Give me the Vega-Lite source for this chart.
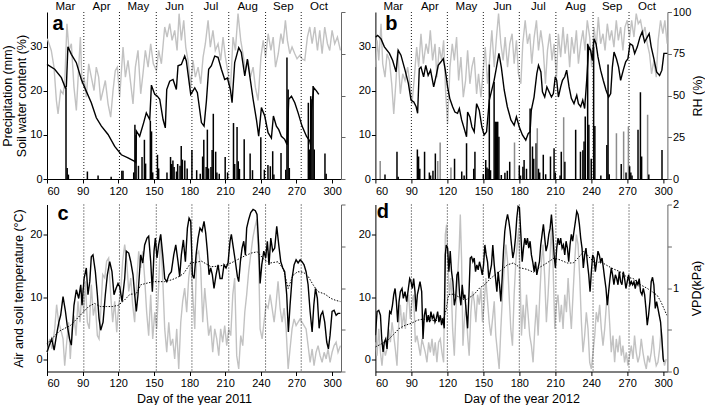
{
"$schema": "https://vega.github.io/schema/vega-lite/v6.json",
"padding": {"left": 1, "top": 0, "right": 0, "bottom": 0},
"background": "white",
"config": {
  "font": "Liberation Sans",
  "view": {"stroke": null},
  "axis": {"grid": false, "domainColor": "#000", "tickColor": "#000", "labelColor": "#000", "titleColor": "#000", "labelFont": "Liberation Sans", "titleFont": "Liberation Sans", "labelFontSize": 11, "titleFontSize": 12.5, "titleFontWeight": "normal", "tickSize": 4, "labelPadding": 1, "titlePadding": 2, "domainWidth": 1, "tickWidth": 1}
},
"datasets": {
  "m2011": [{"day": 91}, {"day": 121}, {"day": 152}, {"day": 182}, {"day": 213}, {"day": 244}, {"day": 274}],
  "m2012": [{"day": 90}, {"day": 120}, {"day": 150}, {"day": 180}, {"day": 210.5}, {"day": 241.5}, {"day": 271.5}],
  "a_swc": [{"day":60,"v":26.0},{"day":66.5,"v":24.9},{"day":72.1,"v":23.0},{"day":75.4,"v":20.7},{"day":76.3,"v":21.0},{"day":77.6,"v":30.0},{"day":80.5,"v":28.3},{"day":84.7,"v":26.4},{"day":88.9,"v":22.6},{"day":92.3,"v":20.4},{"day":97.3,"v":17.3},{"day":101.5,"v":13.9},{"day":105.8,"v":12.0},{"day":111.4,"v":10.1},{"day":117,"v":7.4},{"day":122.6,"v":5.5},{"day":128.2,"v":4.8},{"day":133.8,"v":4.0},{"day":134.7,"v":3.8},{"day":135.2,"v":10.9},{"day":138,"v":9.7},{"day":141.4,"v":12.8},{"day":143.6,"v":15.0},{"day":146.5,"v":13.5},{"day":147.9,"v":21.3},{"day":150.7,"v":19.2},{"day":152.9,"v":18.8},{"day":154.9,"v":18.1},{"day":157.7,"v":13.5},{"day":159.6,"v":11.6},{"day":160.8,"v":20.3},{"day":163.3,"v":22.2},{"day":166.1,"v":22.6},{"day":168.9,"v":20.3},{"day":170.3,"v":25.7},{"day":173.1,"v":26.0},{"day":175.9,"v":27.9},{"day":177.3,"v":26.8},{"day":181,"v":19.2},{"day":184.4,"v":20.7},{"day":186.6,"v":19.6},{"day":190,"v":12.8},{"day":192.2,"v":12.0},{"day":194.2,"v":17.7},{"day":196.1,"v":24.9},{"day":198.4,"v":25.7},{"day":201.2,"v":27.9},{"day":204,"v":27.6},{"day":206.8,"v":24.9},{"day":209.6,"v":22.6},{"day":211.9,"v":22.9},{"day":214.4,"v":20.3},{"day":215.8,"v":17.3},{"day":218,"v":26.4},{"day":221.4,"v":29.8},{"day":223.6,"v":28.7},{"day":226.5,"v":23.4},{"day":228.7,"v":27.2},{"day":230.7,"v":23.4},{"day":233.5,"v":18.1},{"day":236.3,"v":13.5},{"day":238.2,"v":9.7},{"day":240.5,"v":16.2},{"day":243.3,"v":14.3},{"day":246.1,"v":10.5},{"day":248.9,"v":9.3},{"day":250.6,"v":14.3},{"day":253.1,"v":12.0},{"day":255.1,"v":11.2},{"day":257.3,"v":9.7},{"day":260.1,"v":9.0},{"day":262.1,"v":7.8},{"day":263.5,"v":18.1},{"day":265.8,"v":18.8},{"day":268.6,"v":17.3},{"day":271.4,"v":15.0},{"day":274.7,"v":12.0},{"day":278.4,"v":9.7},{"day":281.2,"v":8.6},{"day":281.8,"v":7.8},{"day":282.6,"v":15.8},{"day":284.6,"v":20.7},{"day":286.8,"v":20.0},{"day":288.8,"v":19.2}],
  "a_rh": [{"day":60.3,"v":84},{"day":63.6,"v":77},{"day":65.9,"v":67},{"day":67.9,"v":47},{"day":69.3,"v":39},{"day":71.5,"v":53},{"day":73.5,"v":51},{"day":74.9,"v":57},{"day":76.8,"v":93},{"day":78.5,"v":77},{"day":80.5,"v":81},{"day":82.7,"v":55},{"day":84.7,"v":41},{"day":86.7,"v":67},{"day":88.1,"v":85},{"day":89.5,"v":57},{"day":91.2,"v":61},{"day":93.1,"v":49},{"day":95.1,"v":69},{"day":97.3,"v":61},{"day":99.6,"v":53},{"day":101.5,"v":67},{"day":103.5,"v":61},{"day":105.2,"v":47},{"day":107.2,"v":53},{"day":109.1,"v":59},{"day":111.4,"v":45},{"day":113.6,"v":37},{"day":115.6,"v":53},{"day":117.5,"v":65},{"day":119.2,"v":67},{"day":121.2,"v":49},{"day":124,"v":79},{"day":126,"v":61},{"day":128.2,"v":71},{"day":130.5,"v":57},{"day":132.4,"v":45},{"day":134.4,"v":67},{"day":136.6,"v":77},{"day":138.9,"v":51},{"day":140.8,"v":63},{"day":142.8,"v":77},{"day":145.1,"v":67},{"day":147.3,"v":81},{"day":149.5,"v":69},{"day":152.1,"v":65},{"day":154,"v":77},{"day":156.3,"v":69},{"day":159.1,"v":91},{"day":161.1,"v":85},{"day":163.3,"v":93},{"day":165.3,"v":83},{"day":167.5,"v":89},{"day":169.5,"v":77},{"day":171.2,"v":99},{"day":173.1,"v":83},{"day":175.1,"v":95},{"day":176.8,"v":79},{"day":178.7,"v":71},{"day":181,"v":55},{"day":182.9,"v":71},{"day":184.9,"v":61},{"day":187.2,"v":67},{"day":189.4,"v":57},{"day":191.4,"v":73},{"day":193.3,"v":81},{"day":195.6,"v":95},{"day":197.5,"v":79},{"day":199.7,"v":89},{"day":201.7,"v":77},{"day":204,"v":81},{"day":206.2,"v":71},{"day":208.2,"v":85},{"day":210.2,"v":73},{"day":212.5,"v":63},{"day":214.4,"v":53},{"day":216.6,"v":85},{"day":218.6,"v":77},{"day":220.8,"v":99},{"day":223.1,"v":83},{"day":225,"v":75},{"day":227,"v":65},{"day":229.3,"v":71},{"day":231.2,"v":61},{"day":233.5,"v":67},{"day":235.4,"v":55},{"day":237.7,"v":47},{"day":240.1,"v":73},{"day":242,"v":83},{"day":244,"v":73},{"day":246.2,"v":87},{"day":248.5,"v":77},{"day":250.4,"v":85},{"day":252.4,"v":67},{"day":254.7,"v":75},{"day":256.9,"v":87},{"day":258.7,"v":81},{"day":260.7,"v":95},{"day":262.4,"v":83},{"day":264.4,"v":75},{"day":266.3,"v":79},{"day":268.6,"v":75},{"day":270.5,"v":72},{"day":272.8,"v":74},{"day":274.7,"v":72},{"day":277,"v":71},{"day":279.2,"v":85},{"day":281.2,"v":91},{"day":283.2,"v":81},{"day":285.4,"v":91},{"day":287.7,"v":77},{"day":289.6,"v":89},{"day":291.6,"v":75},{"day":293.8,"v":91},{"day":296.1,"v":81},{"day":298,"v":77},{"day":300,"v":89},{"day":302.2,"v":81},{"day":304.5,"v":85},{"day":307,"v":77}],
  "a_p": [{"day":76,"v":20.7},{"day":77,"v":2.5},{"day":78,"v":1.0},{"day":94,"v":1.7},{"day":103,"v":0.8},{"day":114,"v":0.5},{"day":123,"v":1.9},{"day":124,"v":1.9},{"day":133,"v":1.5},{"day":134,"v":12.3},{"day":135,"v":10.0},{"day":137,"v":3.0},{"day":140,"v":5.0},{"day":142,"v":8.9},{"day":143,"v":3.5},{"day":147,"v":13.2},{"day":148,"v":10.8},{"day":149,"v":1.5},{"day":153,"v":5.5},{"day":154,"v":2.4},{"day":161,"v":1.5},{"day":164,"v":5.0},{"day":165,"v":3.4},{"day":166,"v":4.2},{"day":167,"v":2.7},{"day":169,"v":1.7},{"day":170,"v":3.4},{"day":172,"v":3.0},{"day":173,"v":7.5},{"day":174,"v":4.4},{"day":176,"v":4.2},{"day":178,"v":2.4},{"day":182,"v":6.6},{"day":186,"v":2.0},{"day":189,"v":1.2},{"day":191,"v":5.1},{"day":192,"v":8.9},{"day":194,"v":2.7},{"day":195,"v":11.2},{"day":196,"v":2.4},{"day":198,"v":2.7},{"day":199,"v":6.6},{"day":200,"v":14.8},{"day":202,"v":6.2},{"day":203,"v":1.5},{"day":205,"v":1.2},{"day":210,"v":5.0},{"day":212,"v":1.5},{"day":217,"v":12.7},{"day":218,"v":3.4},{"day":220,"v":11.8},{"day":221,"v":4.0},{"day":222,"v":2.3},{"day":226,"v":9.0},{"day":231,"v":5.8},{"day":233,"v":2.0},{"day":240,"v":9.5},{"day":243,"v":2.1},{"day":246,"v":3.2},{"day":248,"v":2.9},{"day":250,"v":6.3},{"day":251,"v":1.0},{"day":257,"v":5.9},{"day":261,"v":2.1},{"day":262,"v":27.6},{"day":263,"v":20.3},{"day":264,"v":2.5},{"day":280,"v":17.3},{"day":281,"v":6.7},{"day":282,"v":18.8},{"day":283,"v":18.1},{"day":284,"v":21.1},{"day":285,"v":6.7},{"day":294,"v":5.8},{"day":295,"v":1.2}],
  "b_swc": [{"day":60,"v":32.2},{"day":61.9,"v":32.6},{"day":64.7,"v":31.8},{"day":67.5,"v":30.0},{"day":71.7,"v":28.5},{"day":74.4,"v":26.9},{"day":77.2,"v":24.3},{"day":79,"v":29.2},{"day":81.3,"v":28.1},{"day":84.7,"v":24.7},{"day":87.5,"v":21.7},{"day":89.7,"v":17.9},{"day":92,"v":17.5},{"day":94,"v":16.4},{"day":95.2,"v":14.9},{"day":96.6,"v":25.0},{"day":98,"v":25.4},{"day":100.2,"v":23.2},{"day":102,"v":25.8},{"day":104,"v":23.5},{"day":106,"v":24.7},{"day":108.6,"v":20.9},{"day":110.5,"v":23.2},{"day":112.4,"v":25.8},{"day":114.7,"v":26.6},{"day":116.6,"v":27.3},{"day":118.3,"v":24.7},{"day":120.2,"v":20.9},{"day":122,"v":18.3},{"day":124.4,"v":16.4},{"day":126.3,"v":15.2},{"day":128.5,"v":14.9},{"day":130,"v":16.0},{"day":131.9,"v":13.4},{"day":134,"v":11.5},{"day":136,"v":9.6},{"day":136.9,"v":15.2},{"day":138.8,"v":14.1},{"day":140.5,"v":11.8},{"day":142.4,"v":10.7},{"day":144.4,"v":17.1},{"day":146.6,"v":15.6},{"day":148.8,"v":11.8},{"day":150.7,"v":10.0},{"day":152.7,"v":10.7},{"day":155,"v":17.9},{"day":159,"v":22.4},{"day":161,"v":25.4},{"day":163,"v":28.5},{"day":165,"v":25.4},{"day":167.4,"v":20.2},{"day":170,"v":16.4},{"day":173,"v":13.4},{"day":175.7,"v":12.2},{"day":177.6,"v":14.1},{"day":180,"v":11.8},{"day":182.6,"v":10.0},{"day":185.4,"v":8.8},{"day":187.4,"v":10.3},{"day":189,"v":10.7},{"day":190,"v":15.6},{"day":192.3,"v":18.6},{"day":194.6,"v":23.9},{"day":196,"v":25.8},{"day":198,"v":24.3},{"day":199.3,"v":19.8},{"day":201.2,"v":18.6},{"day":203,"v":20.9},{"day":204.8,"v":19.8},{"day":206.8,"v":18.6},{"day":208.4,"v":19.4},{"day":210,"v":23.2},{"day":211.2,"v":22.4},{"day":212.6,"v":18.6},{"day":214.5,"v":20.9},{"day":216,"v":22.4},{"day":217.9,"v":23.2},{"day":219.5,"v":24.7},{"day":221.5,"v":20.9},{"day":223.4,"v":18.3},{"day":225.6,"v":17.1},{"day":227.9,"v":19.0},{"day":229.3,"v":17.1},{"day":231.2,"v":16.4},{"day":232.9,"v":17.9},{"day":234.5,"v":16.0},{"day":236.2,"v":22.4},{"day":237.9,"v":30.0},{"day":239.5,"v":29.2},{"day":240.9,"v":26.9},{"day":242.3,"v":31.8},{"day":244,"v":30.7},{"day":245.6,"v":27.7},{"day":247.8,"v":24.7},{"day":250,"v":22.4},{"day":252.3,"v":20.2},{"day":254.5,"v":18.6},{"day":256.2,"v":19.4},{"day":257.6,"v":25.4},{"day":259,"v":28.8},{"day":261,"v":27.3},{"day":262.8,"v":25.4},{"day":264.5,"v":22.4},{"day":266.7,"v":24.7},{"day":268.7,"v":26.6},{"day":270.6,"v":27.3},{"day":272.3,"v":30.7},{"day":274.5,"v":30.3},{"day":276.2,"v":28.5},{"day":278.4,"v":30.0},{"day":280.6,"v":32.2},{"day":282.5,"v":33.4},{"day":284.5,"v":31.1},{"day":286.7,"v":32.2},{"day":288.3,"v":33.0},{"day":290,"v":30.0},{"day":292.2,"v":27.3},{"day":294.5,"v":24.3},{"day":297,"v":23.5},{"day":298.9,"v":24.7},{"day":300.6,"v":28.5},{"day":302.8,"v":28.5},{"day":304.2,"v":28.5}],
  "b_rh": [{"day":60,"v":67},{"day":61.4,"v":83},{"day":62.8,"v":71},{"day":64.7,"v":93},{"day":66.1,"v":69},{"day":68,"v":61},{"day":69.7,"v":75},{"day":71.7,"v":71},{"day":73.6,"v":57},{"day":75.3,"v":39},{"day":77.2,"v":59},{"day":78.6,"v":77},{"day":80.8,"v":51},{"day":82.8,"v":63},{"day":84.7,"v":59},{"day":86.9,"v":67},{"day":89.1,"v":55},{"day":90.5,"v":45},{"day":92.5,"v":61},{"day":94.4,"v":79},{"day":96.1,"v":67},{"day":98,"v":87},{"day":100,"v":69},{"day":102.2,"v":81},{"day":104.1,"v":75},{"day":105.8,"v":89},{"day":107.7,"v":71},{"day":109.7,"v":81},{"day":111.3,"v":61},{"day":113.3,"v":79},{"day":115.2,"v":71},{"day":116.9,"v":83},{"day":118.5,"v":53},{"day":120.2,"v":33},{"day":122.2,"v":67},{"day":124.1,"v":81},{"day":125.8,"v":71},{"day":127.7,"v":85},{"day":129.4,"v":59},{"day":131.3,"v":73},{"day":133.3,"v":49},{"day":135.2,"v":59},{"day":136.9,"v":77},{"day":138.8,"v":57},{"day":140.5,"v":67},{"day":142.4,"v":73},{"day":144.4,"v":51},{"day":146,"v":63},{"day":148,"v":49},{"day":149.9,"v":65},{"day":151.6,"v":79},{"day":153.5,"v":57},{"day":155.4,"v":73},{"day":157.1,"v":89},{"day":159.1,"v":67},{"day":161,"v":85},{"day":162.7,"v":99},{"day":164.6,"v":81},{"day":166.5,"v":71},{"day":168.2,"v":85},{"day":170.2,"v":67},{"day":172.1,"v":81},{"day":174,"v":87},{"day":175.7,"v":69},{"day":177.6,"v":83},{"day":179.3,"v":63},{"day":181.3,"v":57},{"day":182.9,"v":81},{"day":184.9,"v":95},{"day":186.8,"v":81},{"day":188.7,"v":87},{"day":190.4,"v":69},{"day":192.4,"v":85},{"day":194.3,"v":95},{"day":196,"v":77},{"day":197.9,"v":89},{"day":199.8,"v":79},{"day":201.8,"v":57},{"day":203.5,"v":77},{"day":205.4,"v":87},{"day":207.3,"v":71},{"day":209,"v":81},{"day":211,"v":61},{"day":212.6,"v":87},{"day":214.5,"v":73},{"day":216.5,"v":91},{"day":218.2,"v":75},{"day":220.1,"v":87},{"day":222,"v":67},{"day":223.7,"v":85},{"day":225.7,"v":75},{"day":227.6,"v":89},{"day":229.3,"v":69},{"day":231.2,"v":81},{"day":233.1,"v":89},{"day":234.8,"v":77},{"day":236.7,"v":95},{"day":238.7,"v":85},{"day":240.3,"v":67},{"day":242.3,"v":91},{"day":244.2,"v":79},{"day":245.9,"v":97},{"day":247.8,"v":81},{"day":249.8,"v":87},{"day":251.5,"v":77},{"day":253.4,"v":93},{"day":255.3,"v":83},{"day":257,"v":89},{"day":258.9,"v":79},{"day":260.9,"v":95},{"day":262.6,"v":83},{"day":264.5,"v":91},{"day":266.4,"v":77},{"day":268.1,"v":91},{"day":270,"v":95},{"day":272,"v":85},{"day":273.7,"v":95},{"day":275.6,"v":85},{"day":277.5,"v":99},{"day":279.2,"v":93},{"day":281.1,"v":95},{"day":283.1,"v":87},{"day":284.8,"v":91},{"day":286.7,"v":81},{"day":288.6,"v":75},{"day":290.3,"v":63},{"day":292.2,"v":71},{"day":294.2,"v":61},{"day":295.8,"v":83},{"day":297.8,"v":95},{"day":299.7,"v":87},{"day":301.4,"v":95},{"day":303.3,"v":81},{"day":305,"v":89}],
  "b_p": [{"day":64,"v":4.1,"s":"g"},{"day":68,"v":1.0,"s":"k"},{"day":78,"v":6.2,"s":"k"},{"day":79,"v":0.5,"s":"k"},{"day":95,"v":6.7,"s":"k"},{"day":96,"v":5.1,"s":"k"},{"day":97,"v":2.3,"s":"k"},{"day":101,"v":6.2,"s":"k"},{"day":105,"v":1.5,"s":"k"},{"day":106,"v":0.8,"s":"k"},{"day":108,"v":1.9,"s":"k"},{"day":110,"v":5.8,"s":"k"},{"day":112,"v":4.1,"s":"g"},{"day":114,"v":8.3,"s":"g"},{"day":123,"v":2.6,"s":"g"},{"day":126,"v":4.6,"s":"k"},{"day":132,"v":1.7,"s":"k"},{"day":134,"v":0.8,"s":"k"},{"day":136,"v":8.1,"s":"k"},{"day":142,"v":2.3,"s":"k"},{"day":143,"v":6.2,"s":"k"},{"day":150,"v":1.1,"s":"k"},{"day":152,"v":4.3,"s":"k"},{"day":153,"v":2.6,"s":"k"},{"day":154,"v":2.3,"s":"k"},{"day":155,"v":26.0,"s":"k"},{"day":156,"v":2.0,"s":"k"},{"day":159,"v":22.0,"s":"k"},{"day":160,"v":13.0,"s":"k"},{"day":161,"v":13.0,"s":"k"},{"day":162,"v":13.0,"s":"k"},{"day":163,"v":9.6,"s":"k"},{"day":165,"v":0.9,"s":"k"},{"day":168,"v":1.4,"s":"k"},{"day":170,"v":1.9,"s":"k"},{"day":172,"v":3.9,"s":"k"},{"day":176,"v":8.3,"s":"g"},{"day":180,"v":3.0,"s":"k"},{"day":181,"v":0.8,"s":"k"},{"day":183,"v":2.8,"s":"k"},{"day":184,"v":4.3,"s":"k"},{"day":186,"v":2.3,"s":"k"},{"day":189,"v":16.0,"s":"k"},{"day":191,"v":7.4,"s":"k"},{"day":192,"v":4.6,"s":"k"},{"day":194,"v":8.1,"s":"k"},{"day":195,"v":11.5,"s":"g"},{"day":196,"v":2.3,"s":"k"},{"day":197,"v":1.5,"s":"k"},{"day":200,"v":5.5,"s":"k"},{"day":202,"v":1.1,"s":"k"},{"day":206,"v":5.1,"s":"k"},{"day":209,"v":7.0,"s":"k"},{"day":210,"v":1.5,"s":"k"},{"day":214,"v":0.8,"s":"k"},{"day":215,"v":6.2,"s":"k"},{"day":217,"v":14.0,"s":"g"},{"day":218,"v":3.9,"s":"k"},{"day":227,"v":11.2,"s":"k"},{"day":231,"v":6.2,"s":"k"},{"day":233,"v":6.5,"s":"k"},{"day":234,"v":8.5,"s":"k"},{"day":235,"v":14.2,"s":"k"},{"day":237,"v":30.7,"s":"k"},{"day":238,"v":12.3,"s":"k"},{"day":240,"v":4.6,"s":"k"},{"day":242,"v":30.0,"s":"k"},{"day":243,"v":12.0,"s":"k"},{"day":248,"v":0.8,"s":"k"},{"day":253,"v":7.7,"s":"k"},{"day":254,"v":26.0,"s":"k"},{"day":255,"v":1.1,"s":"k"},{"day":261,"v":10.4,"s":"g"},{"day":265,"v":3.4,"s":"k"},{"day":267,"v":10.8,"s":"g"},{"day":269,"v":1.5,"s":"k"},{"day":271,"v":11.9,"s":"g"},{"day":272,"v":2.9,"s":"k"},{"day":273,"v":1.5,"s":"k"},{"day":274,"v":0.8,"s":"k"},{"day":279,"v":11.2,"s":"k"},{"day":281,"v":19.7,"s":"k"},{"day":282,"v":5.1,"s":"k"},{"day":287,"v":14.6,"s":"g"},{"day":288,"v":1.0,"s":"k"},{"day":299,"v":6.6,"s":"k"}],
  "c_air": [{"day":60,"v":1.2},{"day":62,"v":2.3},{"day":64,"v":3.3},{"day":66,"v":1.5},{"day":68,"v":3.9},{"day":70,"v":6.0},{"day":71.5,"v":7.1},{"day":73.5,"v":10.1},{"day":75.4,"v":7.9},{"day":77,"v":5.5},{"day":79,"v":3.3},{"day":80.5,"v":2.3},{"day":82.7,"v":8.7},{"day":84.7,"v":11.2},{"day":86.7,"v":9.8},{"day":88.4,"v":12.0},{"day":89.5,"v":8.7},{"day":91.2,"v":13.0},{"day":93.1,"v":14.7},{"day":94.5,"v":10.4},{"day":96,"v":12.5},{"day":97.3,"v":16.5},{"day":98.7,"v":16.8},{"day":100.7,"v":14.1},{"day":102.4,"v":10.4},{"day":103.8,"v":6.6},{"day":105.2,"v":4.7},{"day":107.2,"v":6.0},{"day":109.1,"v":10.4},{"day":110.8,"v":13.6},{"day":112.8,"v":15.7},{"day":114.7,"v":14.1},{"day":116.4,"v":10.4},{"day":118.1,"v":11.4},{"day":119.8,"v":12.2},{"day":121.2,"v":11.7},{"day":123.2,"v":9.3},{"day":125.4,"v":13.0},{"day":126.8,"v":17.4},{"day":128.8,"v":17.1},{"day":130.5,"v":15.7},{"day":132.4,"v":13.6},{"day":133.8,"v":10.4},{"day":135.2,"v":7.7},{"day":136.6,"v":10.4},{"day":138.9,"v":16.8},{"day":140.6,"v":15.5},{"day":142.2,"v":18.4},{"day":144.2,"v":19.5},{"day":145.6,"v":19.8},{"day":147.3,"v":15.7},{"day":148.7,"v":10.9},{"day":150.1,"v":17.4},{"day":151.2,"v":19.5},{"day":152.6,"v":16.3},{"day":154,"v":18.4},{"day":155.7,"v":20.1},{"day":157.4,"v":16.8},{"day":159.1,"v":13.0},{"day":160.8,"v":12.5},{"day":162.7,"v":13.6},{"day":164.7,"v":14.1},{"day":166.7,"v":16.8},{"day":168.4,"v":18.4},{"day":170.3,"v":15.7},{"day":171.7,"v":13.3},{"day":173.1,"v":16.8},{"day":174.8,"v":19.2},{"day":176.5,"v":15.7},{"day":178.2,"v":21.1},{"day":179.6,"v":22.7},{"day":181,"v":22.2},{"day":182.4,"v":13.6},{"day":183.8,"v":13.0},{"day":185.5,"v":16.8},{"day":187.2,"v":19.5},{"day":188.8,"v":21.1},{"day":190.5,"v":20.6},{"day":192.2,"v":22.2},{"day":193.6,"v":20.3},{"day":195,"v":17.4},{"day":196.4,"v":13.6},{"day":197.8,"v":14.7},{"day":199.2,"v":13.6},{"day":200.6,"v":11.4},{"day":202.3,"v":13.6},{"day":204,"v":15.2},{"day":205.7,"v":13.0},{"day":207.4,"v":13.0},{"day":209,"v":15.2},{"day":210.7,"v":14.7},{"day":212.4,"v":15.5},{"day":214.1,"v":19.0},{"day":215.2,"v":20.1},{"day":216.9,"v":17.9},{"day":218.6,"v":15.7},{"day":220.3,"v":13.3},{"day":221.4,"v":12.5},{"day":222.8,"v":15.7},{"day":224.2,"v":17.9},{"day":225.6,"v":19.0},{"day":227,"v":16.8},{"day":228.1,"v":21.1},{"day":229.8,"v":22.5},{"day":231.5,"v":23.6},{"day":233.5,"v":24.1},{"day":235.4,"v":23.9},{"day":236.8,"v":23.3},{"day":238.2,"v":18.4},{"day":239.4,"v":12.2},{"day":240.8,"v":15.2},{"day":242.5,"v":17.4},{"day":244.1,"v":16.3},{"day":245.5,"v":19.0},{"day":246.9,"v":15.2},{"day":248.4,"v":19.5},{"day":250,"v":17.4},{"day":251.7,"v":17.9},{"day":253.4,"v":21.4},{"day":255.1,"v":18.4},{"day":256.8,"v":15.7},{"day":258.5,"v":14.7},{"day":260.1,"v":14.1},{"day":261.8,"v":10.4},{"day":263.2,"v":4.4},{"day":264.6,"v":8.7},{"day":266.3,"v":13.0},{"day":268,"v":15.2},{"day":269.7,"v":16.0},{"day":271.4,"v":15.5},{"day":273.1,"v":16.0},{"day":274.7,"v":15.7},{"day":276.4,"v":15.2},{"day":278.1,"v":14.1},{"day":279.8,"v":12.0},{"day":281.5,"v":7.7},{"day":283.2,"v":4.4},{"day":284.6,"v":8.7},{"day":286,"v":11.4},{"day":287.6,"v":9.8},{"day":289.1,"v":5.0},{"day":290.5,"v":7.1},{"day":292.1,"v":7.7},{"day":293.8,"v":6.0},{"day":295.5,"v":2.8},{"day":296.9,"v":1.7},{"day":298.3,"v":3.9},{"day":300,"v":7.7},{"day":301.7,"v":7.9},{"day":303.4,"v":7.1},{"day":305,"v":7.4},{"day":307,"v":7.4}],
  "c_soil": [{"day":60,"v":2.5},{"day":65,"v":3.5},{"day":70,"v":4.5},{"day":75,"v":5.0},{"day":80,"v":5.5},{"day":85,"v":6.5},{"day":91,"v":7.7},{"day":95,"v":8.5},{"day":100,"v":9.0},{"day":105,"v":8.5},{"day":110,"v":8.5},{"day":115,"v":8.5},{"day":120,"v":8.7},{"day":125,"v":9.5},{"day":130,"v":10.5},{"day":135,"v":10.5},{"day":139,"v":12.0},{"day":145,"v":12.3},{"day":150,"v":12.5},{"day":155,"v":12.5},{"day":159,"v":12.5},{"day":165,"v":12.8},{"day":170,"v":13.2},{"day":175,"v":13.8},{"day":181,"v":15.5},{"day":185,"v":15.6},{"day":190,"v":15.8},{"day":198,"v":14.9},{"day":205,"v":15.0},{"day":210,"v":15.2},{"day":215,"v":15.5},{"day":220,"v":16.0},{"day":225,"v":16.5},{"day":232,"v":17.1},{"day":237,"v":17.3},{"day":243,"v":16.0},{"day":248,"v":15.5},{"day":254.5,"v":15.7},{"day":259,"v":14.5},{"day":263,"v":11.4},{"day":267,"v":13.5},{"day":271,"v":14.1},{"day":276,"v":14.0},{"day":280,"v":13.3},{"day":284,"v":12.0},{"day":288,"v":10.9},{"day":294,"v":10.5},{"day":299,"v":9.8},{"day":303,"v":9.5},{"day":307,"v":9.3}],
  "c_vpd": [{"day":60.3,"v":0.23},{"day":62.2,"v":0.39},{"day":64.2,"v":0.27},{"day":66.5,"v":0.51},{"day":68.1,"v":0.8},{"day":69.8,"v":0.59},{"day":71.5,"v":0.51},{"day":73.5,"v":0.39},{"day":74.9,"v":0.07},{"day":76.6,"v":0.35},{"day":78.2,"v":0.59},{"day":79.6,"v":0.15},{"day":81.1,"v":0.51},{"day":82.7,"v":0.67},{"day":84.4,"v":0.43},{"day":86.1,"v":0.84},{"day":87.8,"v":0.59},{"day":89.5,"v":1.0},{"day":90.9,"v":0.71},{"day":92.3,"v":1.08},{"day":94,"v":0.59},{"day":95.6,"v":0.51},{"day":97.3,"v":1.04},{"day":99,"v":0.67},{"day":100.7,"v":0.8},{"day":102.4,"v":0.43},{"day":103.8,"v":0.39},{"day":105.2,"v":0.71},{"day":106.9,"v":1.16},{"day":108.6,"v":1.12},{"day":110.2,"v":1.32},{"day":111.9,"v":1.36},{"day":113.6,"v":0.92},{"day":115.3,"v":0.59},{"day":117,"v":0.84},{"day":118.7,"v":0.47},{"day":120.4,"v":0.8},{"day":122,"v":0.96},{"day":123.7,"v":1.32},{"day":125.4,"v":1.52},{"day":127.1,"v":1.32},{"day":128.8,"v":0.96},{"day":130.5,"v":1.12},{"day":132.1,"v":0.8},{"day":133.8,"v":0.59},{"day":135.5,"v":1.08},{"day":137.2,"v":1.44},{"day":138.9,"v":1.24},{"day":140.6,"v":1.44},{"day":142.2,"v":1.12},{"day":143.9,"v":0.71},{"day":145.6,"v":0.43},{"day":147.3,"v":0.92},{"day":149,"v":0.39},{"day":150.7,"v":0.71},{"day":152.4,"v":0.51},{"day":154,"v":1.04},{"day":155.7,"v":1.64},{"day":157.4,"v":1.12},{"day":159.1,"v":0.51},{"day":160.8,"v":0.23},{"day":162.5,"v":0.59},{"day":164.1,"v":0.31},{"day":165.8,"v":0.39},{"day":167.5,"v":0.15},{"day":169.2,"v":0.51},{"day":170.9,"v":0.03},{"day":172.6,"v":0.59},{"day":174.2,"v":0.84},{"day":175.9,"v":1.0},{"day":177.6,"v":0.71},{"day":179.3,"v":1.12},{"day":181,"v":1.32},{"day":182.7,"v":0.92},{"day":184.4,"v":0.51},{"day":186,"v":1.4},{"day":187.7,"v":1.44},{"day":189.4,"v":1.24},{"day":191.1,"v":0.59},{"day":192.8,"v":1.0},{"day":194.5,"v":0.71},{"day":196.1,"v":0.43},{"day":197.8,"v":0.55},{"day":199.5,"v":0.23},{"day":201.2,"v":0.51},{"day":202.9,"v":0.39},{"day":204.6,"v":0.19},{"day":206.2,"v":0.51},{"day":207.9,"v":0.35},{"day":209.6,"v":0.55},{"day":211.3,"v":0.31},{"day":213,"v":0.51},{"day":214.7,"v":0.43},{"day":216.4,"v":0.92},{"day":218,"v":1.12},{"day":219.7,"v":0.19},{"day":221.4,"v":0.03},{"day":223.1,"v":0.43},{"day":224.8,"v":0.31},{"day":226.5,"v":0.71},{"day":228.1,"v":0.92},{"day":229.8,"v":1.2},{"day":231.5,"v":1.4},{"day":233.3,"v":1.6},{"day":234.9,"v":1.72},{"day":236.6,"v":1.82},{"day":238.2,"v":1.32},{"day":239.4,"v":0.51},{"day":241.1,"v":0.39},{"day":242.7,"v":0.59},{"day":244.4,"v":0.8},{"day":246.1,"v":0.76},{"day":247.8,"v":0.92},{"day":249.5,"v":0.76},{"day":251.2,"v":0.59},{"day":252.8,"v":0.8},{"day":254.5,"v":1.08},{"day":256.2,"v":0.76},{"day":257.9,"v":0.59},{"day":259.6,"v":0.76},{"day":261.3,"v":0.51},{"day":263,"v":0.03},{"day":264.6,"v":0.27},{"day":266.3,"v":0.51},{"day":268,"v":0.63},{"day":269.7,"v":0.55},{"day":271.4,"v":0.59},{"day":273.1,"v":0.63},{"day":274.7,"v":0.59},{"day":276.4,"v":0.55},{"day":278.1,"v":0.51},{"day":279.8,"v":0.31},{"day":281.5,"v":0.11},{"day":283.2,"v":0.27},{"day":284.8,"v":0.07},{"day":286.5,"v":0.23},{"day":288.2,"v":0.31},{"day":289.9,"v":0.19},{"day":291.6,"v":0.11},{"day":293.3,"v":0.23},{"day":295,"v":0.15},{"day":296.6,"v":0.27},{"day":298.3,"v":0.11},{"day":300,"v":0.23},{"day":301.7,"v":0.31},{"day":303.4,"v":0.35},{"day":305,"v":0.23},{"day":307,"v":0.31}],
  "d_air": [{"day":60,"v":3.9},{"day":61.4,"v":7.7},{"day":62.8,"v":7.9},{"day":64.2,"v":7.1},{"day":65.3,"v":3.3},{"day":66.4,"v":1.2},{"day":67.5,"v":2.8},{"day":68.6,"v":3.3},{"day":69.7,"v":1.7},{"day":70.8,"v":5.0},{"day":71.9,"v":7.7},{"day":73,"v":7.4},{"day":74.2,"v":8.7},{"day":75.3,"v":10.4},{"day":76.4,"v":11.4},{"day":77.5,"v":9.3},{"day":78.6,"v":6.0},{"day":79.7,"v":9.3},{"day":80.8,"v":10.9},{"day":82.2,"v":11.4},{"day":83.3,"v":9.8},{"day":84.7,"v":10.9},{"day":86.1,"v":9.3},{"day":87.5,"v":11.4},{"day":88.6,"v":13.0},{"day":89.7,"v":12.5},{"day":90.8,"v":11.4},{"day":91.9,"v":13.0},{"day":93,"v":10.9},{"day":93.9,"v":7.7},{"day":95,"v":10.4},{"day":96.1,"v":11.4},{"day":97.2,"v":12.5},{"day":98.6,"v":10.9},{"day":99.7,"v":3.3},{"day":100.8,"v":7.1},{"day":101.9,"v":8.2},{"day":103,"v":6.0},{"day":104.1,"v":7.1},{"day":105.2,"v":6.0},{"day":106.3,"v":7.7},{"day":107.4,"v":6.6},{"day":108.6,"v":7.1},{"day":109.7,"v":6.0},{"day":110.8,"v":6.6},{"day":111.9,"v":7.7},{"day":113,"v":6.0},{"day":114.1,"v":7.1},{"day":115.2,"v":5.5},{"day":116.3,"v":6.6},{"day":117.4,"v":5.0},{"day":118.3,"v":16.8},{"day":119.1,"v":18.4},{"day":120.2,"v":17.9},{"day":121.3,"v":14.1},{"day":122.4,"v":17.4},{"day":123.5,"v":14.1},{"day":124.6,"v":12.5},{"day":125.8,"v":8.7},{"day":126.9,"v":9.8},{"day":128,"v":13.6},{"day":129.1,"v":14.1},{"day":130.2,"v":10.4},{"day":131.3,"v":8.7},{"day":132.4,"v":12.0},{"day":133.5,"v":9.8},{"day":134.6,"v":10.4},{"day":135.7,"v":7.7},{"day":136.9,"v":5.0},{"day":138,"v":10.4},{"day":139.1,"v":16.3},{"day":140.2,"v":16.5},{"day":141.3,"v":15.7},{"day":142.4,"v":16.3},{"day":143.5,"v":14.1},{"day":144.6,"v":15.2},{"day":145.7,"v":14.4},{"day":146.8,"v":15.7},{"day":148,"v":14.7},{"day":149.1,"v":13.6},{"day":150.2,"v":15.2},{"day":151.3,"v":18.4},{"day":152.4,"v":16.8},{"day":153.5,"v":15.7},{"day":154.6,"v":13.0},{"day":155.7,"v":14.1},{"day":156.8,"v":15.2},{"day":157.9,"v":18.4},{"day":159.1,"v":15.2},{"day":160.2,"v":13.0},{"day":161.3,"v":10.9},{"day":162.4,"v":14.1},{"day":163.5,"v":12.0},{"day":164.6,"v":9.3},{"day":165.7,"v":13.0},{"day":166.8,"v":17.4},{"day":167.9,"v":20.6},{"day":169,"v":22.2},{"day":170.2,"v":23.3},{"day":171.3,"v":22.2},{"day":172.4,"v":20.6},{"day":173.5,"v":18.4},{"day":174.6,"v":16.3},{"day":175.7,"v":17.4},{"day":176.8,"v":19.5},{"day":177.9,"v":22.7},{"day":179,"v":24.6},{"day":180.1,"v":24.4},{"day":181.3,"v":20.1},{"day":182.4,"v":15.7},{"day":183.5,"v":17.9},{"day":184.6,"v":19.5},{"day":185.7,"v":18.4},{"day":186.8,"v":19.5},{"day":187.9,"v":17.9},{"day":189,"v":19.0},{"day":190.1,"v":16.8},{"day":191.2,"v":15.7},{"day":192.4,"v":14.1},{"day":193.5,"v":15.7},{"day":194.6,"v":13.6},{"day":195.7,"v":14.7},{"day":196.8,"v":15.7},{"day":197.9,"v":18.4},{"day":199,"v":20.1},{"day":200.1,"v":21.7},{"day":201.2,"v":19.5},{"day":202.3,"v":17.4},{"day":203.5,"v":18.4},{"day":204.6,"v":20.1},{"day":205.7,"v":21.1},{"day":206.8,"v":23.3},{"day":207.9,"v":20.6},{"day":209,"v":16.8},{"day":210.1,"v":14.7},{"day":211.2,"v":17.9},{"day":212.3,"v":19.5},{"day":213.4,"v":18.4},{"day":214.5,"v":19.5},{"day":215.7,"v":17.9},{"day":216.8,"v":18.4},{"day":217.9,"v":16.8},{"day":219,"v":19.0},{"day":220.1,"v":17.9},{"day":221.2,"v":15.7},{"day":222.3,"v":18.4},{"day":223.4,"v":20.1},{"day":224.5,"v":19.0},{"day":225.6,"v":20.6},{"day":226.8,"v":22.2},{"day":227.9,"v":23.8},{"day":229,"v":23.3},{"day":230.1,"v":21.7},{"day":231.2,"v":19.5},{"day":232.3,"v":17.9},{"day":233.4,"v":14.7},{"day":234.5,"v":16.8},{"day":235.6,"v":17.9},{"day":236.7,"v":15.7},{"day":237.9,"v":13.6},{"day":239,"v":10.9},{"day":240.1,"v":14.1},{"day":241.2,"v":16.8},{"day":242.3,"v":16.3},{"day":243.4,"v":14.1},{"day":244.5,"v":15.7},{"day":245.6,"v":17.4},{"day":246.7,"v":16.8},{"day":247.8,"v":15.7},{"day":249,"v":16.3},{"day":250.1,"v":14.7},{"day":251.2,"v":13.0},{"day":252.3,"v":11.4},{"day":253.4,"v":8.7},{"day":254.5,"v":10.9},{"day":255.6,"v":13.0},{"day":256.7,"v":14.7},{"day":257.8,"v":13.6},{"day":258.9,"v":12.0},{"day":260.1,"v":13.6},{"day":261.2,"v":13.0},{"day":262.3,"v":12.0},{"day":263.4,"v":14.1},{"day":264.5,"v":12.5},{"day":265.6,"v":12.0},{"day":266.7,"v":14.1},{"day":267.8,"v":13.0},{"day":268.9,"v":11.4},{"day":270,"v":12.5},{"day":271.2,"v":13.6},{"day":272.3,"v":12.0},{"day":273.4,"v":12.5},{"day":274.5,"v":12.0},{"day":275.6,"v":12.5},{"day":276.7,"v":11.4},{"day":277.8,"v":12.5},{"day":278.9,"v":12.0},{"day":280,"v":13.0},{"day":281.1,"v":10.9},{"day":282.3,"v":10.4},{"day":283.4,"v":11.4},{"day":284.5,"v":10.4},{"day":285.6,"v":8.2},{"day":286.7,"v":5.5},{"day":287.8,"v":7.1},{"day":288.9,"v":9.3},{"day":290,"v":12.5},{"day":291.1,"v":13.2},{"day":292.2,"v":12.0},{"day":293.4,"v":8.2},{"day":294.5,"v":9.3},{"day":295.6,"v":8.2},{"day":296.7,"v":7.1},{"day":297.8,"v":6.0},{"day":298.9,"v":3.3},{"day":300,"v":0.1},{"day":300.6,"v":-0.4}],
  "d_soil": [{"day":60,"v":2.0},{"day":65,"v":2.5},{"day":70,"v":3.0},{"day":75,"v":4.0},{"day":80,"v":5.0},{"day":85,"v":5.5},{"day":90,"v":5.8},{"day":95,"v":6.3},{"day":100,"v":6.5},{"day":105,"v":6.3},{"day":110,"v":6.2},{"day":117,"v":6.6},{"day":119,"v":8.0},{"day":121,"v":10.4},{"day":125,"v":10.5},{"day":130,"v":10.0},{"day":135,"v":9.5},{"day":142,"v":10.4},{"day":147,"v":11.5},{"day":151,"v":12.0},{"day":156,"v":13.0},{"day":161,"v":13.8},{"day":166,"v":14.5},{"day":170,"v":15.2},{"day":175,"v":15.5},{"day":181,"v":14.7},{"day":186,"v":14.5},{"day":192,"v":14.0},{"day":197,"v":14.8},{"day":203,"v":15.5},{"day":209,"v":16.3},{"day":214,"v":16.0},{"day":220,"v":15.5},{"day":225,"v":15.5},{"day":230,"v":16.5},{"day":234,"v":17.4},{"day":238,"v":16.5},{"day":243,"v":15.5},{"day":248,"v":15.7},{"day":254,"v":15.0},{"day":259,"v":14.5},{"day":264,"v":14.1},{"day":270,"v":13.2},{"day":275,"v":13.0},{"day":281,"v":12.0},{"day":286,"v":11.5},{"day":290,"v":11.0},{"day":295,"v":10.3},{"day":298,"v":9.3},{"day":301,"v":8.0},{"day":303,"v":7.1}],
  "d_vpd": [{"day":60,"v":0.35},{"day":61.4,"v":0.19},{"day":62.8,"v":0.51},{"day":64.2,"v":0.23},{"day":65.5,"v":0.07},{"day":66.9,"v":0.31},{"day":68.3,"v":0.19},{"day":69.7,"v":0.27},{"day":71.1,"v":0.51},{"day":72.5,"v":0.35},{"day":73.9,"v":0.59},{"day":75.3,"v":0.43},{"day":76.6,"v":0.27},{"day":78,"v":0.07},{"day":79.4,"v":0.55},{"day":80.8,"v":0.8},{"day":82.2,"v":0.51},{"day":83.6,"v":0.71},{"day":85,"v":0.51},{"day":86.4,"v":0.8},{"day":87.7,"v":0.92},{"day":89.1,"v":0.63},{"day":90.5,"v":0.84},{"day":91.9,"v":0.92},{"day":93.3,"v":0.35},{"day":94.7,"v":0.43},{"day":96.1,"v":0.31},{"day":97.5,"v":0.19},{"day":98.8,"v":0.39},{"day":100.2,"v":0.31},{"day":101.6,"v":0.23},{"day":103,"v":0.11},{"day":104.4,"v":0.35},{"day":105.8,"v":0.23},{"day":107.2,"v":0.39},{"day":108.6,"v":0.19},{"day":109.9,"v":0.35},{"day":111.3,"v":0.11},{"day":112.7,"v":0.35},{"day":114.1,"v":0.39},{"day":115.5,"v":0.23},{"day":116.9,"v":0.11},{"day":118.3,"v":1.64},{"day":119.4,"v":1.76},{"day":120.5,"v":1.32},{"day":121.6,"v":0.92},{"day":123,"v":1.12},{"day":124.4,"v":0.51},{"day":125.8,"v":0.19},{"day":127.1,"v":0.71},{"day":128.5,"v":1.12},{"day":129.9,"v":1.48},{"day":130.8,"v":1.88},{"day":131.9,"v":1.32},{"day":133,"v":0.31},{"day":134.1,"v":0.59},{"day":135.5,"v":0.8},{"day":136.9,"v":0.43},{"day":138.2,"v":0.19},{"day":139.6,"v":0.71},{"day":141,"v":0.96},{"day":142.4,"v":0.84},{"day":143.8,"v":0.59},{"day":145.2,"v":0.92},{"day":146.6,"v":0.8},{"day":148,"v":1.0},{"day":149.3,"v":0.59},{"day":150.7,"v":0.8},{"day":152.1,"v":1.12},{"day":153.5,"v":0.84},{"day":154.9,"v":0.59},{"day":156.3,"v":0.43},{"day":157.7,"v":0.63},{"day":159.1,"v":0.84},{"day":160.4,"v":0.43},{"day":161.8,"v":0.23},{"day":163.2,"v":0.03},{"day":164.6,"v":0.51},{"day":166,"v":0.92},{"day":167.4,"v":1.24},{"day":168.8,"v":1.52},{"day":170.2,"v":1.32},{"day":171.5,"v":0.92},{"day":172.9,"v":0.51},{"day":174.3,"v":0.31},{"day":175.7,"v":0.92},{"day":177.1,"v":1.32},{"day":178.5,"v":1.56},{"day":179.6,"v":1.72},{"day":180.7,"v":1.12},{"day":181.8,"v":0.43},{"day":183.2,"v":0.8},{"day":184.6,"v":0.51},{"day":186,"v":0.92},{"day":187.4,"v":0.67},{"day":188.7,"v":0.43},{"day":190.1,"v":0.31},{"day":191.5,"v":0.11},{"day":192.9,"v":0.51},{"day":194.3,"v":0.8},{"day":195.7,"v":0.43},{"day":197.1,"v":0.92},{"day":198.5,"v":1.32},{"day":199.8,"v":1.52},{"day":201.2,"v":1.12},{"day":202.6,"v":0.59},{"day":204,"v":0.92},{"day":205.4,"v":1.32},{"day":206.8,"v":1.72},{"day":208.2,"v":1.24},{"day":209.6,"v":0.51},{"day":210.9,"v":0.8},{"day":212.3,"v":0.92},{"day":213.7,"v":0.59},{"day":215.1,"v":0.8},{"day":216.5,"v":0.51},{"day":217.9,"v":0.92},{"day":219.3,"v":0.71},{"day":220.7,"v":1.12},{"day":222,"v":0.8},{"day":223.4,"v":0.51},{"day":224.8,"v":0.92},{"day":226.2,"v":1.32},{"day":227.6,"v":1.64},{"day":229,"v":1.52},{"day":230.4,"v":1.12},{"day":231.8,"v":0.59},{"day":233.1,"v":0.23},{"day":234.5,"v":0.43},{"day":235.9,"v":0.71},{"day":237.3,"v":0.51},{"day":238.7,"v":0.11},{"day":240.1,"v":0.03},{"day":241.5,"v":0.23},{"day":242.9,"v":0.43},{"day":244.2,"v":0.71},{"day":245.6,"v":0.59},{"day":247,"v":0.8},{"day":248.4,"v":0.51},{"day":249.8,"v":0.31},{"day":251.2,"v":0.51},{"day":252.6,"v":0.8},{"day":254,"v":0.92},{"day":255.3,"v":0.59},{"day":256.7,"v":0.23},{"day":258.1,"v":0.43},{"day":259.5,"v":0.11},{"day":260.9,"v":0.39},{"day":262.3,"v":0.23},{"day":263.7,"v":0.43},{"day":265.1,"v":0.19},{"day":266.4,"v":0.31},{"day":267.8,"v":0.11},{"day":269.2,"v":0.23},{"day":270.6,"v":0.07},{"day":272,"v":0.19},{"day":273.4,"v":0.31},{"day":274.8,"v":0.15},{"day":276.1,"v":0.43},{"day":277.5,"v":0.23},{"day":278.9,"v":0.11},{"day":280.3,"v":0.19},{"day":281.7,"v":0.39},{"day":283.1,"v":0.23},{"day":284.5,"v":0.11},{"day":285.9,"v":0.03},{"day":287.2,"v":0.19},{"day":288.6,"v":0.11},{"day":290,"v":0.23},{"day":291.4,"v":0.43},{"day":292.8,"v":0.19},{"day":294.2,"v":0.07},{"day":295.6,"v":0.11},{"day":297,"v":0.27},{"day":298.3,"v":0.51},{"day":299.7,"v":0.19},{"day":301.1,"v":0.07},{"day":302.5,"v":0.15}]
},
"concat": [
  {
    "width": 294, "height": 167,
    "layer": [
      {"data": {"name": "a_rh"}, "mark": {"type": "line", "color": "#c2c2c2", "strokeWidth": 1.4, "clip": true},
       "encoding": {
         "x": {"field": "day", "type": "quantitative", "scale": {"domain": [60, 307.5], "nice": false, "zero": false}, "axis": {"orient": "top", "values": [75, 105.5, 136.5, 167, 197.5, 228.5, 258.5, 288.5], "labelExpr": "datum.value < 90 ? 'Mar' : datum.value < 120 ? 'Apr' : datum.value < 150 ? 'May' : datum.value < 180 ? 'Jun' : datum.value < 210 ? 'Jul' : datum.value < 240 ? 'Aug' : datum.value < 270 ? 'Sep' : 'Oct'", "ticks": false, "domain": false, "title": null, "labelPadding": 1, "labelFontSize": 11.5}},
         "y": {"field": "v", "type": "quantitative", "scale": {"domain": [0, 100], "nice": false}, "axis": {"orient": "right", "values": [0, 25, 50, 75, 100], "labels": false, "title": null, "domainColor": "#666", "tickColor": "#666"}}
       }},
      {"data": {"name": "m2011"}, "mark": {"type": "rule", "strokeDash": [1, 2], "color": "#000", "strokeWidth": 0.9},
       "encoding": {"x": {"field": "day", "type": "quantitative", "axis": null}}},
      {"data": {"name": "a_p"}, "mark": {"type": "rule", "strokeWidth": 1.5, "color": "#000"},
       "encoding": {
         "x": {"field": "day", "type": "quantitative", "axis": {"orient": "bottom", "values": [60, 90, 120, 150, 180, 210, 240, 270, 300], "title": null, "labelPadding": 2}},
         "y": {"field": "v", "type": "quantitative", "scale": {"domain": [0, 37.9], "nice": false}, "axis": {"orient": "left", "values": [0, 10, 20, 30], "title": ["Precipitation (mm)", "Soil water content (%)"], "titleLineHeight": 14, "titlePadding": 1}},
         "y2": {"datum": 0}
       }},
      {"data": {"name": "a_swc"}, "mark": {"type": "line", "color": "#000", "strokeWidth": 1.4},
       "encoding": {"x": {"field": "day", "type": "quantitative", "axis": null}, "y": {"field": "v", "type": "quantitative", "scale": {"domain": [0, 37.9], "nice": false}, "axis": null}}},
      {"data": {"values": [{"p": "a"}]}, "mark": {"type": "text", "fontSize": 20, "fontWeight": "bold", "align": "center", "baseline": "middle"},
       "encoding": {"x": {"datum": 69.3, "axis": null}, "y": {"datum": 35.2, "scale": {"domain": [0, 37.9], "nice": false}, "axis": null}, "text": {"field": "p"}}}
    ],
    "resolve": {"scale": {"y": "independent"}, "axis": {"x": "independent", "y": "independent"}}
  },
  {
    "width": 292, "height": 167,
    "layer": [
      {"data": {"name": "b_rh"}, "mark": {"type": "line", "color": "#c2c2c2", "strokeWidth": 1.4, "clip": true},
       "encoding": {
         "x": {"field": "day", "type": "quantitative", "scale": {"domain": [60, 303.5], "nice": false, "zero": false}, "axis": {"orient": "top", "values": [74.5, 105, 135.5, 165.5, 195.5, 226.5, 257, 286], "labelExpr": "datum.value < 90 ? 'Mar' : datum.value < 120 ? 'Apr' : datum.value < 150 ? 'May' : datum.value < 180 ? 'Jun' : datum.value < 210 ? 'Jul' : datum.value < 240 ? 'Aug' : datum.value < 270 ? 'Sep' : 'Oct'", "ticks": false, "domain": false, "title": null, "labelPadding": 1, "labelFontSize": 11.5}},
         "y": {"field": "v", "type": "quantitative", "scale": {"domain": [0, 100], "nice": false}, "axis": {"orient": "right", "values": [0, 25, 50, 75, 100], "title": "RH (%)", "titleAngle": 270, "titleBaseline": "top", "titlePadding": 1, "domainColor": "#666", "tickColor": "#666"}}
       }},
      {"data": {"name": "m2012"}, "mark": {"type": "rule", "strokeDash": [1, 2], "color": "#000", "strokeWidth": 0.9},
       "encoding": {"x": {"field": "day", "type": "quantitative", "axis": null}}},
      {"data": {"name": "b_p"}, "mark": {"type": "rule", "strokeWidth": 1.5, "clip": true},
       "encoding": {
         "x": {"field": "day", "type": "quantitative", "axis": {"orient": "bottom", "values": [60, 90, 120, 150, 180, 210, 240, 270, 300], "title": null, "labelPadding": 2}},
         "y": {"field": "v", "type": "quantitative", "scale": {"domain": [0, 37.9], "nice": false}, "axis": {"orient": "left", "values": [0, 10, 20, 30], "title": null}},
         "y2": {"datum": 0},
         "color": {"field": "s", "type": "nominal", "scale": {"domain": ["k", "g"], "range": ["#000000", "#8c8c8c"]}, "legend": null}
       }},
      {"data": {"name": "b_swc"}, "mark": {"type": "line", "color": "#000", "strokeWidth": 1.4, "clip": true},
       "encoding": {"x": {"field": "day", "type": "quantitative", "axis": null}, "y": {"field": "v", "type": "quantitative", "scale": {"domain": [0, 37.9], "nice": false}, "axis": null}}},
      {"data": {"values": [{"p": "b"}]}, "mark": {"type": "text", "fontSize": 20, "fontWeight": "bold", "align": "center", "baseline": "middle"},
       "encoding": {"x": {"datum": 73.3, "axis": null}, "y": {"datum": 35.2, "scale": {"domain": [0, 37.9], "nice": false}, "axis": null}, "text": {"field": "p"}}}
    ],
    "resolve": {"scale": {"y": "independent"}, "axis": {"x": "independent", "y": "independent"}}
  },
  {
    "width": 294, "height": 167,
    "layer": [
      {"data": {"name": "c_vpd"}, "mark": {"type": "line", "color": "#c2c2c2", "strokeWidth": 1.4, "clip": true},
       "encoding": {
         "x": {"field": "day", "type": "quantitative", "scale": {"domain": [60, 307.5], "nice": false, "zero": false}, "axis": null},
         "y": {"field": "v", "type": "quantitative", "scale": {"domain": [0, 2], "nice": false, "zero": false}, "axis": {"orient": "right", "values": [0, 0.5, 1, 1.5, 2], "labels": false, "title": null, "domainColor": "#666", "tickColor": "#666"}}
       }},
      {"data": {"name": "m2011"}, "mark": {"type": "rule", "strokeDash": [1, 2], "color": "#000", "strokeWidth": 0.9},
       "encoding": {"x": {"field": "day", "type": "quantitative", "axis": null}}},
      {"data": {"name": "c_soil"}, "mark": {"type": "line", "color": "#000", "strokeWidth": 1, "strokeDash": [1.5, 1.5]},
       "encoding": {
         "x": {"field": "day", "type": "quantitative", "axis": {"orient": "bottom", "values": [60, 90, 120, 150, 180, 210, 240, 270, 300], "title": "Day of the year 2011", "labelPadding": 2, "titlePadding": 4}},
         "y": {"field": "v", "type": "quantitative", "scale": {"domain": [-1.94, 24.9], "nice": false, "zero": false}, "axis": {"orient": "left", "values": [0, 10, 20], "title": "Air and soil temperature (°C)", "titlePadding": 4}}
       }},
      {"data": {"name": "c_air"}, "mark": {"type": "line", "color": "#000", "strokeWidth": 1.4},
       "encoding": {"x": {"field": "day", "type": "quantitative", "axis": null}, "y": {"field": "v", "type": "quantitative", "scale": {"domain": [-1.94, 24.9], "nice": false, "zero": false}, "axis": null}}},
      {"data": {"values": [{"p": "c"}]}, "mark": {"type": "text", "fontSize": 20, "fontWeight": "bold", "align": "center", "baseline": "middle"},
       "encoding": {"x": {"datum": 73.5, "axis": null}, "y": {"datum": 23.4, "scale": {"domain": [-1.94, 24.9], "nice": false, "zero": false}, "axis": null}, "text": {"field": "p"}}}
    ],
    "resolve": {"scale": {"y": "independent"}, "axis": {"x": "independent", "y": "independent"}}
  },
  {
    "width": 292, "height": 167,
    "layer": [
      {"data": {"name": "d_vpd"}, "mark": {"type": "line", "color": "#c2c2c2", "strokeWidth": 1.4, "clip": true},
       "encoding": {
         "x": {"field": "day", "type": "quantitative", "scale": {"domain": [60, 303.5], "nice": false, "zero": false}, "axis": null},
         "y": {"field": "v", "type": "quantitative", "scale": {"domain": [0, 2], "nice": false, "zero": false}, "axis": {"orient": "right", "values": [0, 0.5, 1, 1.5, 2], "labelExpr": "datum.value == 0 ? '0' : datum.value == 1 ? '1' : datum.value == 2 ? '2' : ''", "title": "VPD(kPa)", "titleAngle": 270, "titleBaseline": "top", "titlePadding": 12, "domainColor": "#666", "tickColor": "#666"}}
       }},
      {"data": {"name": "m2012"}, "mark": {"type": "rule", "strokeDash": [1, 2], "color": "#000", "strokeWidth": 0.9},
       "encoding": {"x": {"field": "day", "type": "quantitative", "axis": null}}},
      {"data": {"name": "d_soil"}, "mark": {"type": "line", "color": "#000", "strokeWidth": 1, "strokeDash": [1.5, 1.5], "clip": true},
       "encoding": {
         "x": {"field": "day", "type": "quantitative", "axis": {"orient": "bottom", "values": [60, 90, 120, 150, 180, 210, 240, 270, 300], "title": "Day of the year 2012", "labelPadding": 2, "titlePadding": 4}},
         "y": {"field": "v", "type": "quantitative", "scale": {"domain": [-1.94, 24.9], "nice": false, "zero": false}, "axis": {"orient": "left", "values": [0, 10, 20], "title": null}}
       }},
      {"data": {"name": "d_air"}, "mark": {"type": "line", "color": "#000", "strokeWidth": 1.4, "clip": true},
       "encoding": {"x": {"field": "day", "type": "quantitative", "axis": null}, "y": {"field": "v", "type": "quantitative", "scale": {"domain": [-1.94, 24.9], "nice": false, "zero": false}, "axis": null}}},
      {"data": {"values": [{"p": "d"}]}, "mark": {"type": "text", "fontSize": 20, "fontWeight": "bold", "align": "center", "baseline": "middle"},
       "encoding": {"x": {"datum": 66.3, "axis": null}, "y": {"datum": 23.7, "scale": {"domain": [-1.94, 24.9], "nice": false, "zero": false}, "axis": null}, "text": {"field": "p"}}}
    ],
    "resolve": {"scale": {"y": "independent"}, "axis": {"x": "independent", "y": "independent"}}
  }
],
"columns": 2,
"spacing": {"row": 25.5, "column": 34.4},
"bounds": "flush"
}
